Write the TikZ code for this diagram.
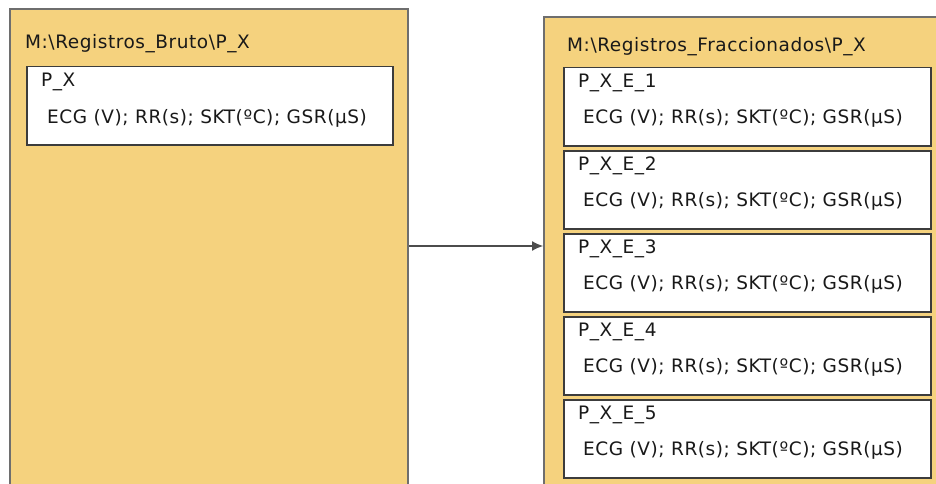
\documentclass[tikz,border=0pt]{standalone}
\usepackage{fontspec}
\setmainfont{DejaVu Sans}
\usetikzlibrary{arrows.meta}

\definecolor{folderfill}{RGB}{245,210,126}
\definecolor{folderline}{RGB}{110,110,110}
\definecolor{fileline}{RGB}{60,60,60}

\begin{document}
\begin{tikzpicture}[x=1pt,y=-1pt,
  folder/.style={draw=folderline,line width=2pt,fill=folderfill,anchor=north west,inner sep=0pt},
  file/.style={draw=fileline,line width=1.5pt,fill=white,anchor=north west,inner sep=0pt,minimum height=78pt},
  txt/.style={anchor=west,inner sep=0pt,font=\fontsize{18.5}{20}\selectfont\addfontfeature{LetterSpace=3},text=black!90}]
\clip (0,0) rectangle (936,484);
\fill[white] (0,0) rectangle (936,484);

% carpeta de registros brutos
\node[folder,minimum width=398pt,minimum height=500pt] (bruto) at (9,8) {};
\node[txt] (brutoname) at (25,44) {M:\textbackslash Registros\_Bruto\textbackslash P\_X};
\node[file,minimum width=366pt] (px) at (26,66) {};
\node[txt] (pxname) at (41,82) {P\_X};
\node[txt] (pxdata) at (47,118) {ECG (V); RR(s); SKT(ºC); GSR(µS)};

% carpeta de registros fraccionados
\node[folder,minimum width=402pt,minimum height=500pt] (frac) at (543,16) {};
\node[txt] (fracname) at (567,47) {M:\textbackslash Registros\_Fraccionados\textbackslash P\_X};
\foreach \i in {1,...,5}{
  \pgfmathsetmacro{\top}{67+83*(\i-1)}
  \node[file,minimum width=367pt] (pxe\i) at (563,\top) {};
  \node[txt] (pxe\i name) at (578,\top+16) {P\_X\_E\_\i};
  \node[txt] (pxe\i data) at (583,\top+51) {ECG (V); RR(s); SKT(ºC); GSR(µS)};
}

\coordinate (row) at (0,246);
\draw[line width=1.2pt,draw=black!70,-{Latex[length=11pt,width=10pt]}] (bruto.east |- row) -- (frac.west |- row);
\end{tikzpicture}
\end{document}
